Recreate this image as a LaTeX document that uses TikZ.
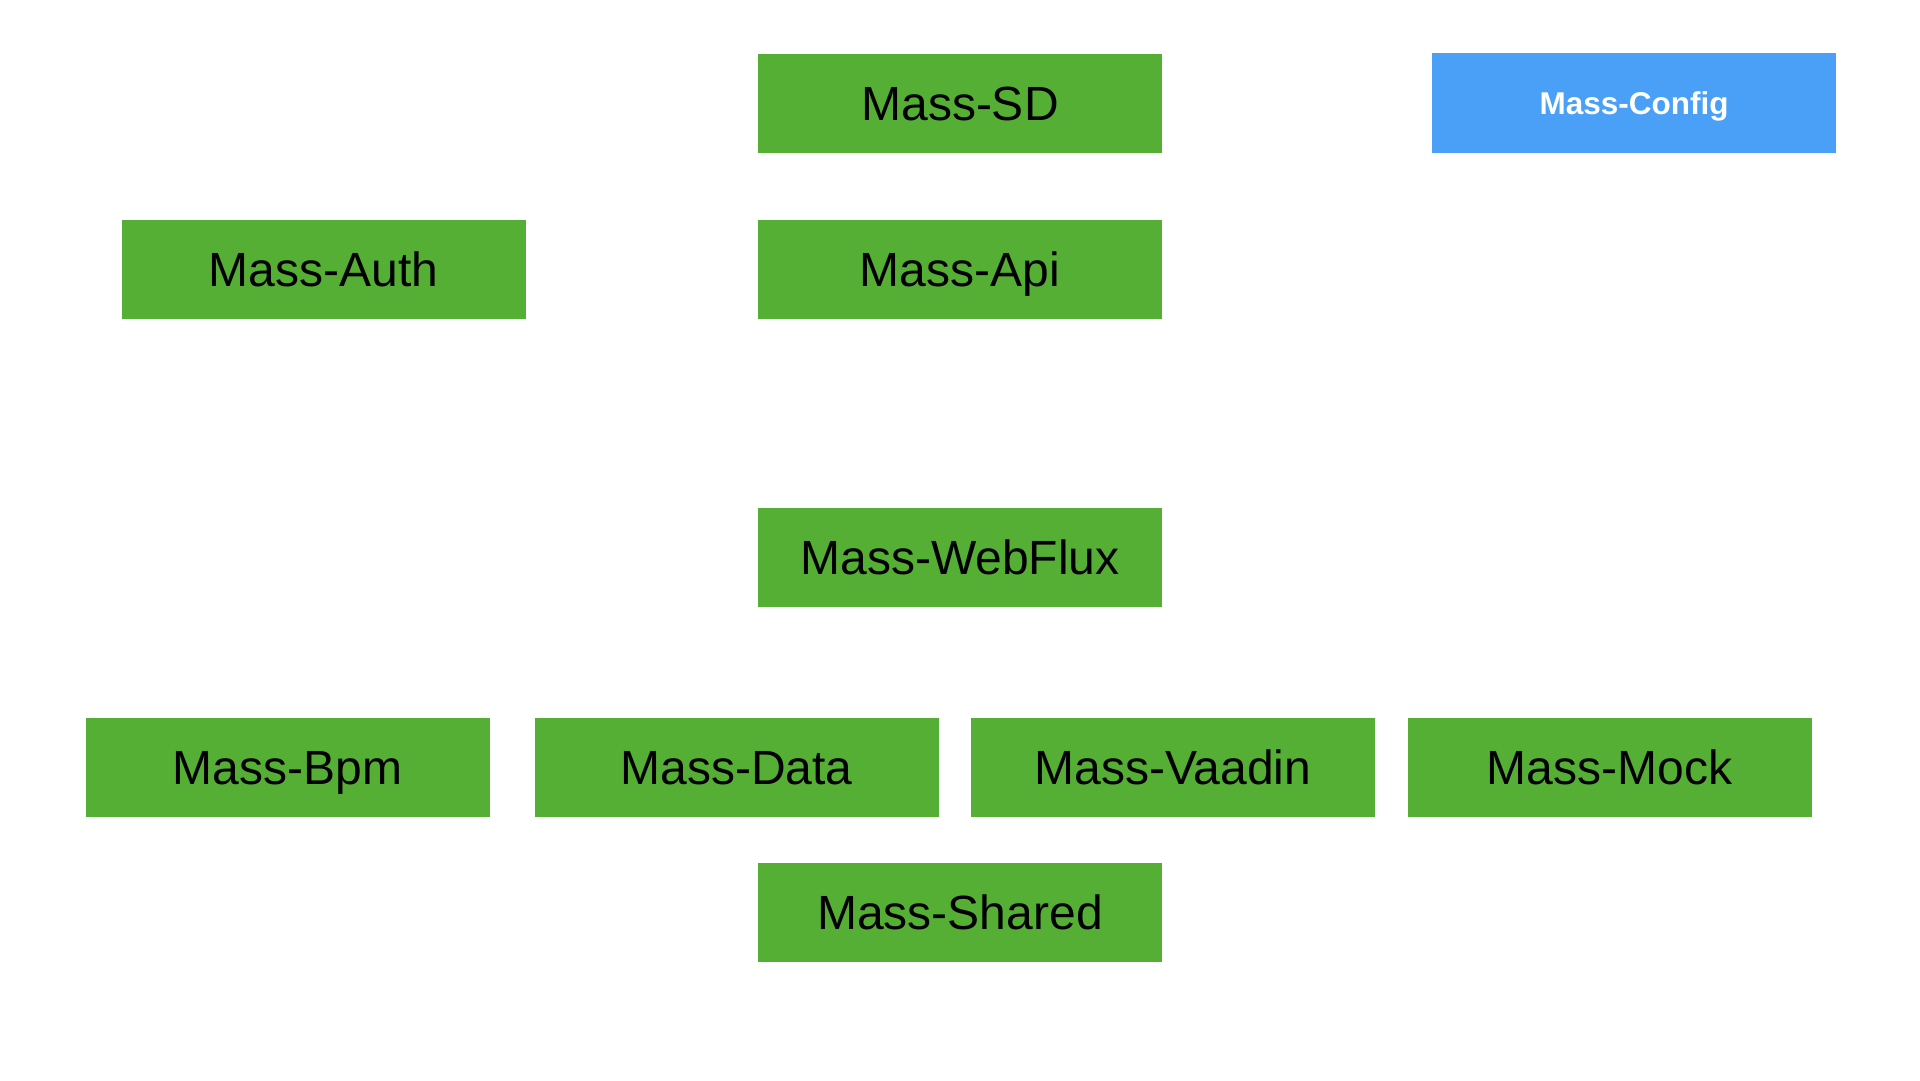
\documentclass[tikz,border=0pt]{standalone}
\usepackage{fontspec}
\setmainfont{Liberation Sans}
\definecolor{boxgreen}{RGB}{84,175,52}
\definecolor{boxblue}{RGB}{74,160,247}
\begin{document}
\begin{tikzpicture}[x=1pt,y=-1pt,
  modbox/.style={fill=boxgreen,draw=none,minimum width=404pt,minimum height=99pt,inner sep=0pt,
    text height=34.5pt,text depth=0pt,font=\fontsize{48}{56}\selectfont,text=black},
  cfgbox/.style={fill=boxblue,draw=none,minimum width=404pt,minimum height=100pt,inner sep=0pt,
    text height=23pt,text depth=0pt,font=\fontsize{31.5}{38}\selectfont\bfseries,text=white}]
\fill[white] (0,0) rectangle (1920,1080);
\useasboundingbox (0,0) rectangle (1920,1080);
\node[modbox] (sd) at (960,103.5) {Mass-SD};
\node[cfgbox] (config) at (1634,103) {Mass-Config};
\node[modbox] (auth) at (323.5,269.5) {Mass-Auth};
\node[modbox] (api) at (960,269.5) {Mass-Api};
\node[modbox] (webflux) at (960,557.5) {Mass-WebFlux};
\node[modbox] (bpm) at (287.5,767.5) {Mass-Bpm};
\node[modbox] (data) at (736.5,767.5) {Mass-Data};
\node[modbox] (vaadin) at (1173,767.5) {Mass-Vaadin};
\node[modbox] (mock) at (1609.5,767.5) {Mass-Mock};
\node[modbox] (shared) at (960,912.5) {Mass-Shared};
\end{tikzpicture}
\end{document}
